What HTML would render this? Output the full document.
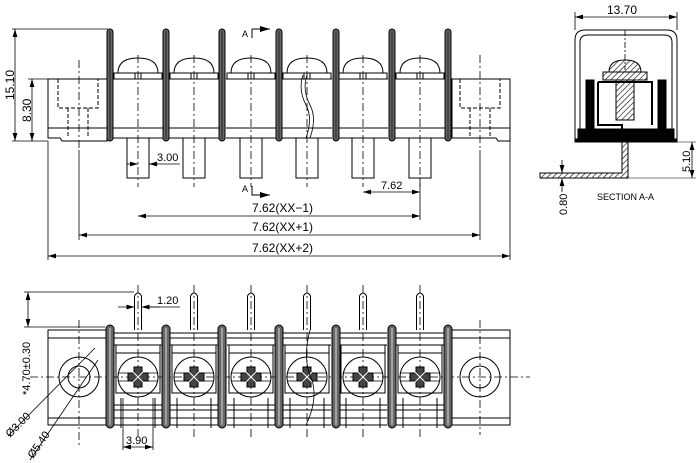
<!DOCTYPE html>
<html><head><meta charset="utf-8"><style>
html,body{margin:0;padding:0;background:#fff;}
svg{display:block;}
text{font-family:"Liberation Sans",sans-serif;fill:#000;}
</style></head><body>
<svg width="699" height="463" viewBox="0 0 699 463" xmlns="http://www.w3.org/2000/svg" fill="none" stroke="#000" stroke-width="1">
<defs>
<marker id="ar" viewBox="0 0 10 6" refX="10" refY="3" markerWidth="10" markerHeight="6" orient="auto-start-reverse"><path d="M0,0 L10,3 L0,6 Z" fill="#000" stroke="none"/></marker>
<pattern id="hat" width="4" height="4" patternUnits="userSpaceOnUse" patternTransform="rotate(45)"><line x1="0" y1="0" x2="0" y2="4" stroke="#000" stroke-width="1.2"/></pattern>
<pattern id="dots" width="3" height="3" patternUnits="userSpaceOnUse"><rect width="3" height="3" fill="#fff"/><rect width="2" height="2" fill="#000"/></pattern>
<g id="tbar">
 <rect x="-3" y="29" width="6" height="112" rx="3" fill="#666" stroke="#000"/>
 <line x1="0" y1="31" x2="0" y2="139" stroke="#222"/>
</g>
<g id="tcell">
 <path d="M-20,73 Q-20,58 0,58 Q20,58 20,73" />
 <rect x="-24" y="73" width="48" height="6"/>
 <line x1="-3" y1="73" x2="-3" y2="79"/><line x1="3" y1="73" x2="3" y2="79"/>
 <line x1="-25" y1="79" x2="25" y2="79"/>
 <line x1="-25" y1="128" x2="25" y2="128"/>
 <line x1="-25" y1="138" x2="25" y2="138"/>
 <rect x="-11" y="138" width="22" height="40"/>
 <line x1="0" y1="55" x2="0" y2="187" stroke-dasharray="8,3,2,3" stroke-width="0.8"/>
</g>
<g id="bbar">
 <rect x="-4" y="325" width="8" height="103" rx="4" fill="#666" stroke="#000"/>
 <line x1="0" y1="328" x2="0" y2="425" stroke="#ddd"/>
</g>
<g id="bcell">
 <path d="M-3.5,330 L-3.5,296 Q0,290 3.5,296 L3.5,330"/>
 <line x1="0" y1="285" x2="0" y2="440" stroke-dasharray="8,3,2,3" stroke-width="0.8"/>
 <line x1="-24" y1="333" x2="24" y2="333"/>
 <line x1="-24" y1="338" x2="24" y2="338"/>
 <line x1="-24" y1="345" x2="24" y2="345"/>
 <rect x="-22" y="345" width="44" height="8"/>
 <rect x="-22" y="353" width="44" height="40"/>
 <circle cx="0" cy="377" r="20"/>
 <path d="M-20,373 H20 M-20,381 H20" stroke-width="0.8"/>
 <path d="M-4,367 H4 V373 H10 V381 H4 V387 H-4 V381 H-10 V373 H-4 Z" fill="#444"/>
 <path d="M-7,370 L7,384 M7,370 L-7,384" stroke="#fff" stroke-width="1"/>
 <line x1="-24" y1="405" x2="24" y2="405"/>
 <line x1="-24" y1="410" x2="24" y2="410"/>
 <line x1="-24" y1="418" x2="24" y2="418"/>
 <line x1="-24" y1="425" x2="24" y2="425"/>
 <line x1="-17" y1="398" x2="-17" y2="428"/><line x1="17" y1="398" x2="17" y2="428"/>
</g>
</defs>

<!-- ========== TOP VIEW ========== -->
<path d="M48,79 H107 V141 H62 L60,138 H48 Z"/>
<line x1="48" y1="128" x2="107" y2="128"/>
<path d="M58,79 V108 H98 V79" stroke-dasharray="4,2"/>
<path d="M68,108 V138 M88,108 V138" stroke-dasharray="4,2"/>
<line x1="79" y1="60" x2="79" y2="150" stroke-dasharray="8,3,2,3" stroke-width="0.8"/>
<path d="M452,79 H510 V141 H498 L496,138 H452 Z"/>
<line x1="452" y1="128" x2="510" y2="128"/>
<path d="M460,79 V108 H500 V79" stroke-dasharray="4,2"/>
<path d="M470,108 V138 M490,108 V138" stroke-dasharray="4,2"/>
<line x1="480" y1="55" x2="480" y2="150" stroke-dasharray="8,3,2,3" stroke-width="0.8"/>

<use href="#tcell" x="138"/><use href="#tcell" x="194"/><use href="#tcell" x="251"/>
<use href="#tcell" x="307"/><use href="#tcell" x="363"/><use href="#tcell" x="420"/>
<use href="#tbar" x="110"/><use href="#tbar" x="166"/><use href="#tbar" x="222"/>
<use href="#tbar" x="279"/><use href="#tbar" x="336"/><use href="#tbar" x="392"/><use href="#tbar" x="448"/>
<path d="M303,75 Q298,90 306,105 Q313,118 306,138" stroke-width="0.8"/>
<path d="M307,75 Q302,90 310,105 Q317,118 310,138" stroke-width="0.8"/>

<path d="M252,29 V38 M252,29 H270" /><path d="M262,29 H270" marker-end="url(#ar)"/>
<path d="M252,186 V195 H270" marker-end="url(#ar)"/>
<text x="242" y="37" font-size="9" font-family="Liberation Serif" stroke="none">A</text>
<text x="242" y="192" font-size="9" font-family="Liberation Serif" stroke="none">A</text>

<line x1="12" y1="29" x2="108" y2="29" stroke-width="0.8"/>
<line x1="12" y1="141" x2="48" y2="141" stroke-width="0.8"/>
<line x1="28" y1="79" x2="48" y2="79" stroke-width="0.8"/>
<line x1="15" y1="29" x2="15" y2="141" marker-start="url(#ar)" marker-end="url(#ar)" stroke-width="0.8"/>
<line x1="32" y1="79" x2="32" y2="141" marker-start="url(#ar)" marker-end="url(#ar)" stroke-width="0.8"/>
<text transform="translate(14,100) rotate(-90)" font-size="12" stroke="none">15.10</text>
<text transform="translate(31,122) rotate(-90)" font-size="12" stroke="none">8.30</text>

<line x1="127" y1="164" x2="138" y2="164" marker-end="url(#ar)" stroke-width="0.8"/>
<line x1="158" y1="164" x2="149" y2="164" marker-end="url(#ar)" stroke-width="0.8"/>
<line x1="149" y1="164" x2="180" y2="164" stroke-width="0.8"/>
<text x="157" y="161" font-size="11" stroke="none">3.00</text>
<line x1="363" y1="192" x2="420" y2="192" marker-start="url(#ar)" marker-end="url(#ar)" stroke-width="0.8"/>
<text x="381" y="189" font-size="11" stroke="none">7.62</text>
<line x1="420" y1="178" x2="420" y2="220" stroke-width="0.8"/>
<line x1="138" y1="216" x2="420" y2="216" marker-start="url(#ar)" marker-end="url(#ar)" stroke-width="0.8"/>
<text x="252" y="212" font-size="12" stroke="none">7.62(XX−1)</text>
<line x1="79" y1="150" x2="79" y2="240" stroke-width="0.8"/>
<line x1="480" y1="150" x2="480" y2="240" stroke-width="0.8"/>
<line x1="79" y1="235" x2="480" y2="235" marker-start="url(#ar)" marker-end="url(#ar)" stroke-width="0.8"/>
<text x="252" y="231" font-size="12" stroke="none">7.62(XX+1)</text>
<line x1="48" y1="141" x2="48" y2="260" stroke-width="0.8"/>
<line x1="510" y1="141" x2="510" y2="260" stroke-width="0.8"/>
<line x1="48" y1="256" x2="510" y2="256" marker-start="url(#ar)" marker-end="url(#ar)" stroke-width="0.8"/>
<text x="252" y="252" font-size="12" stroke="none">7.62(XX+2)</text>

<!-- ========== SECTION ========== -->
<path d="M575,142 V40 Q575,30 585,30 H667 Q677,30 677,40 V142 Z"/>
<path d="M580,130 V42 Q580,35 588,35 H664 Q672,35 672,42 V130"/>
<line x1="575" y1="17" x2="677" y2="17" marker-start="url(#ar)" marker-end="url(#ar)" stroke-width="0.8"/>
<line x1="575" y1="12" x2="575" y2="30" stroke-width="0.8"/><line x1="677" y1="12" x2="677" y2="30" stroke-width="0.8"/>
<text x="607" y="14" font-size="12" stroke="none">13.70</text>
<rect x="578" y="129" width="96" height="10" fill="url(#dots)"/>
<rect x="586" y="80" width="8" height="50" fill="url(#dots)"/>
<rect x="658" y="80" width="8" height="50" fill="url(#dots)"/>
<rect x="575" y="139" width="102" height="3" fill="#000"/>
<path d="M609,72 Q609,60 625,60 Q641,60 641,72 Z" fill="url(#hat)"/>
<rect x="603" y="72" width="44" height="8" fill="url(#hat)"/>
<rect x="616" y="80" width="18" height="40" fill="url(#hat)"/>
<path d="M598,82 H652 V125 M598,82 V125 H622 V142" stroke-width="2"/>
<line x1="625" y1="30" x2="625" y2="70" stroke-dasharray="6,2,2,2" stroke-width="0.8"/>
<path d="M622,142 V173 H540 V178 H628 V142 Z" fill="url(#hat)"/>
<line x1="692" y1="142" x2="692" y2="178" marker-start="url(#ar)" marker-end="url(#ar)" stroke-width="0.8"/>
<line x1="677" y1="142" x2="696" y2="142" stroke-width="0.6"/>
<line x1="628" y1="178" x2="696" y2="178" stroke-width="0.6"/>
<text transform="translate(690,172) rotate(-90)" font-size="11" stroke="none">5.10</text>
<line x1="562" y1="160" x2="562" y2="173" marker-end="url(#ar)" stroke-width="0.8"/>
<line x1="562" y1="192" x2="562" y2="178" marker-end="url(#ar)" stroke-width="0.8"/>
<text transform="translate(567,215) rotate(-90)" font-size="11" stroke="none">0.80</text>
<text x="597" y="200" font-size="9" font-family="Liberation Serif" stroke="none">SECTION A-A</text>

<!-- ========== BOTTOM VIEW ========== -->
<rect x="48" y="330" width="60" height="95"/>
<line x1="48" y1="338" x2="108" y2="338"/><line x1="48" y1="418" x2="108" y2="418"/>
<circle cx="79" cy="377" r="20"/><circle cx="79" cy="377" r="11"/>
<line x1="79" y1="320" x2="79" y2="445" stroke-dasharray="8,3,2,3" stroke-width="0.8"/>
<rect x="450" y="330" width="60" height="95"/>
<line x1="450" y1="338" x2="510" y2="338"/><line x1="450" y1="418" x2="510" y2="418"/>
<circle cx="480" cy="377" r="20"/><circle cx="480" cy="377" r="11"/>
<line x1="480" y1="320" x2="480" y2="435" stroke-dasharray="8,3,2,3" stroke-width="0.8"/>
<line x1="30" y1="377" x2="530" y2="377" stroke-dasharray="8,3,2,3" stroke-width="0.8"/>

<use href="#bcell" x="138"/><use href="#bcell" x="194"/><use href="#bcell" x="251"/>
<use href="#bcell" x="307"/><use href="#bcell" x="363"/><use href="#bcell" x="420"/>
<use href="#bbar" x="110"/><use href="#bbar" x="166"/><use href="#bbar" x="222"/>
<use href="#bbar" x="279"/><use href="#bbar" x="336"/><use href="#bbar" x="392"/><use href="#bbar" x="448"/>
<path d="M310,330 Q302,360 312,380 Q318,400 306,425" stroke-width="0.8"/>

<line x1="118" y1="307" x2="134.5" y2="307" marker-end="url(#ar)" stroke-width="0.8"/>
<line x1="160" y1="307" x2="141.5" y2="307" marker-end="url(#ar)" stroke-width="0.8"/>
<line x1="141.5" y1="307" x2="180" y2="307" stroke-width="0.8"/>
<text x="157" y="304" font-size="11" stroke="none">1.20</text>
<line x1="24" y1="292" x2="134" y2="292" stroke-width="0.8"/>
<line x1="24" y1="327" x2="105" y2="327" stroke-width="0.8"/>
<line x1="28" y1="292" x2="28" y2="327" marker-start="url(#ar)" marker-end="url(#ar)" stroke-width="0.8"/>
<text transform="translate(30,395) rotate(-90)" font-size="11" stroke="none">*4.70±0.30</text>
<line x1="8" y1="436" x2="95" y2="348" stroke-width="0.8"/>
<line x1="30" y1="460" x2="98" y2="360" stroke-width="0.8"/>
<text transform="translate(10,438) rotate(-45)" font-size="11" stroke="none">Ø3.00</text>
<text transform="translate(33,459) rotate(-55)" font-size="11" stroke="none">Ø5.40</text>
<line x1="123" y1="398" x2="123" y2="450" stroke-width="0.8"/>
<line x1="153" y1="398" x2="153" y2="450" stroke-width="0.8"/>
<line x1="123" y1="447" x2="153" y2="447" marker-start="url(#ar)" marker-end="url(#ar)" stroke-width="0.8"/>
<text x="126" y="444" font-size="11" stroke="none">3.90</text>
</svg>
</body></html>
